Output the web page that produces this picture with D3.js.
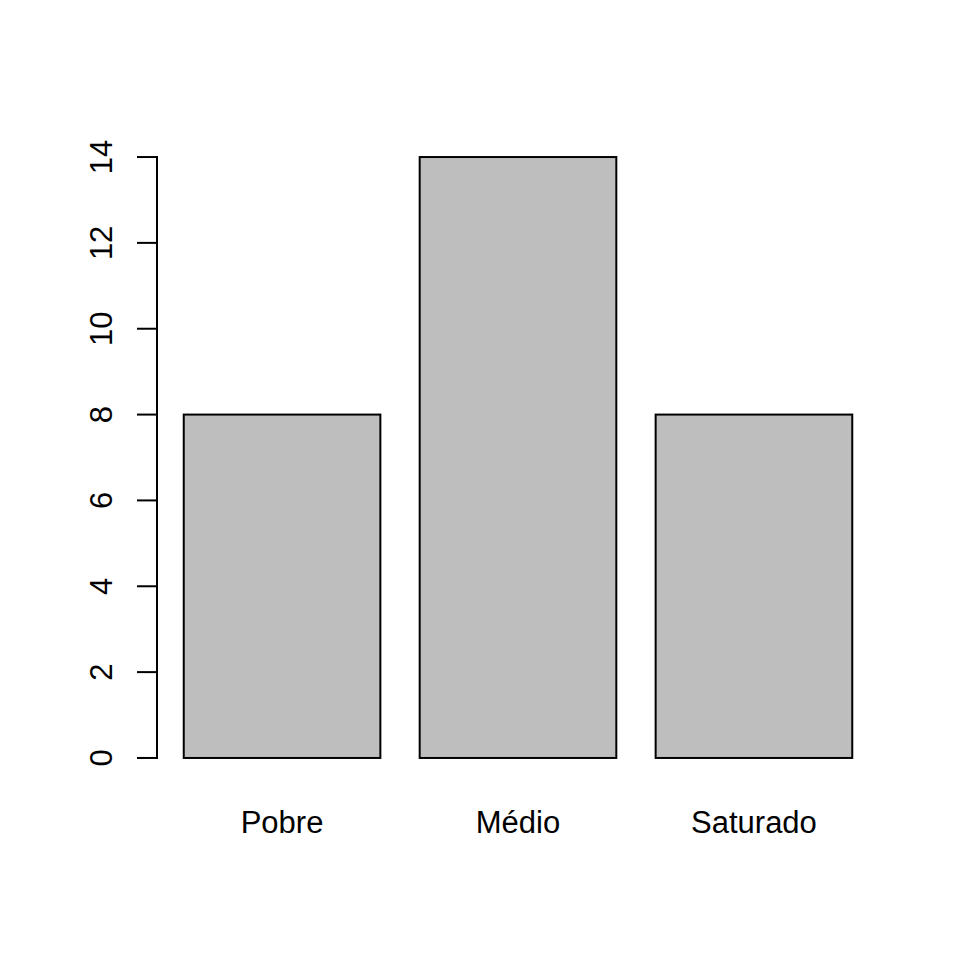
<!DOCTYPE html>
<html>
<head>
<meta charset="utf-8">
<script src="https://cdn.jsdelivr.net/npm/d3@7"></script>
<style>
  body { margin: 0; background: #fff; }
  text { font-family: "Liberation Sans", Arial, Helvetica, sans-serif; fill: #000; }
</style>
</head>
<body>
<div id="chart"></div>
<script>
// barplot data
const categories = ["Pobre", "Médio", "Saturado"];
const counts = [8, 14, 8];
const y_ticks = [0, 2, 4, 6, 8, 10, 12, 14];

const W = 960, H = 960;
const font_size = 31;

// plot region (R-style, 4% extension on both axes)
const plot = {left: 157, right: 879, top: 133, bottom: 782};

const svg = d3.select("#chart").append("svg")
  .attr("width", W)
  .attr("height", H);

// bars sit at 0.2 + i*1.2 with width 1, like barplot(space = 0.2)
const bar_w = 1, space = 0.2;
const x_max = categories.length * (bar_w + space);
const x_pad = (x_max - space) * 0.04;
const X = d3.scaleLinear()
  .domain([space - x_pad, x_max + x_pad])
  .range([plot.left, plot.right]);

const y_top = d3.max(counts);
const Y = d3.scaleLinear()
  .domain([-y_top * 0.04, y_top * 1.04])
  .range([plot.bottom, plot.top]);

const bar_left = i => space + i * (bar_w + space);

svg.selectAll("rect.bar")
  .data(counts)
  .enter()
  .append("rect")
  .attr("class", "bar")
  .attr("x", (d, i) => X(bar_left(i)))
  .attr("y", d => Y(d))
  .attr("width", (d, i) => X(bar_left(i) + bar_w) - X(bar_left(i)))
  .attr("height", d => Y(0) - Y(d))
  .attr("fill", "#bebebe")
  .attr("stroke", "#000")
  .attr("stroke-width", 2);

// category labels under the bars
svg.selectAll("text.cat")
  .data(categories)
  .enter()
  .append("text")
  .attr("class", "cat")
  .attr("x", (d, i) => X(bar_left(i) + bar_w / 2))
  .attr("y", 833)
  .attr("text-anchor", "middle")
  .attr("font-size", font_size)
  .text(d => d);

// y axis, drawn by hand so ticks and labels look like base R
const x_axis = X.range()[0];
const y_axis = svg.append("g");

y_axis.append("line")
  .attr("x1", x_axis).attr("x2", x_axis)
  .attr("y1", Y(y_ticks[0])).attr("y2", Y(y_ticks[y_ticks.length - 1]))
  .attr("stroke", "#000")
  .attr("stroke-width", 2)
  .attr("stroke-linecap", "square");

y_axis.selectAll("line.tick")
  .data(y_ticks)
  .enter()
  .append("line")
  .attr("class", "tick")
  .attr("x1", x_axis - 20).attr("x2", x_axis)
  .attr("y1", d => Y(d)).attr("y2", d => Y(d))
  .attr("stroke", "#000")
  .attr("stroke-width", 2);

y_axis.selectAll("text.tick-label")
  .data(y_ticks)
  .enter()
  .append("text")
  .attr("class", "tick-label")
  .attr("transform", d => `translate(112,${Y(d)}) rotate(-90)`)
  .attr("text-anchor", "middle")
  .attr("font-size", font_size)
  .text(d => d);
</script>
</body>
</html>
